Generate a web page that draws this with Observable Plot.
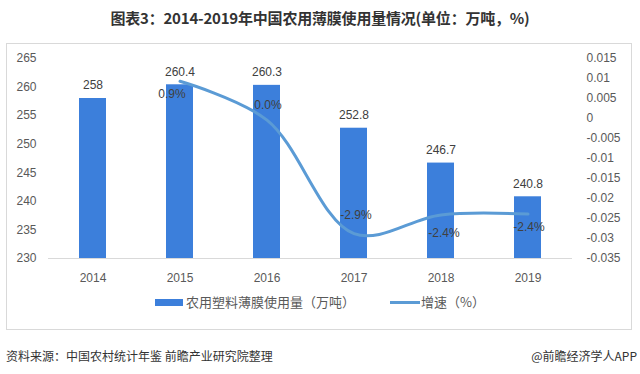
<!DOCTYPE html>
<html><head><meta charset="utf-8">
<script src="https://cdn.jsdelivr.net/npm/d3@7"></script>
<script src="https://cdn.jsdelivr.net/npm/@observablehq/plot@0.6"></script>
<style>
body{margin:0;background:#fff;}
#wrap{position:relative;width:640px;height:374px;overflow:hidden;font-family:"Liberation Sans","Noto Sans CJK SC",sans-serif;background:#fff;}
#title{position:absolute;top:9px;left:0;width:640px;text-align:center;font-size:15px;line-height:18px;font-weight:bold;color:#333;font-family:"Noto Sans CJK SC",sans-serif;letter-spacing:-0.2px;}
#frame{position:absolute;left:6px;top:43px;width:626px;height:287px;border:1px solid #d9d9d9;box-sizing:border-box;}
#chart{position:absolute;left:0;top:40px;}
.leg{position:absolute;font-size:13px;line-height:16px;color:#595959;font-family:"Noto Sans CJK SC",sans-serif;white-space:nowrap;}
.sw{position:absolute;}
#footL{position:absolute;left:6px;top:348px;font-size:12px;line-height:16px;color:#333;font-family:"Noto Sans CJK SC",sans-serif;white-space:nowrap;}
#footR{position:absolute;right:3px;top:348px;font-size:12px;line-height:16px;color:#333;font-family:"Noto Sans CJK SC",sans-serif;white-space:nowrap;}
</style></head>
<body>
<div id="wrap">
  <div id="title">图表3：2014-2019年中国农用薄膜使用量情况(单位：万吨，%)</div>
  <div id="frame"></div>
  <div id="chart"></div>
  <div class="sw" style="left:155px;top:299px;width:28px;height:7px;background:#3c7fdb;"></div>
  <div class="leg" style="left:186px;top:294px;">农用塑料薄膜使用量（万吨）</div>
  <div class="sw" style="left:390px;top:301px;width:30px;height:3px;background:#5b9bd5;"></div>
  <div class="leg" style="left:421px;top:294px;">增速（%）</div>
  <div id="footL">资料来源：中国农村统计年鉴 前瞻产业研究院整理</div>
  <div id="footR">@前瞻经济学人APP</div>
</div>
<script>
const years = ["2014","2015","2016","2017","2018","2019"];
const amounts = [258, 260.4, 260.3, 252.8, 246.7, 240.8];
const growthYears = ["2015","2016","2017","2018","2019"];
const growth = [0.0093, -0.0004, -0.0288, -0.0241, -0.0239];
const growthLabels = ["0.9%","0.0%","-2.9%","-2.4%","-2.4%"];
const leftTicks = [230, 235, 240, 245, 250, 255, 260, 265];
const rightTicks = [0.015, 0.01, 0.005, 0, -0.005, -0.01, -0.015, -0.02, -0.025, -0.03, -0.035];

const yDomain = [230, 265];
const rDomain = [-0.035, 0.015];
const g2y = d3.scaleLinear(rDomain, yDomain);

const barRows = years.map((y, i) => ({year: y, amount: amounts[i]}));
const lineRows = growthYears.map((y, i) => ({year: y, g: growth[i], label: growthLabels[i]}));

// label offsets (style only)
const offs = {"2015":[-8,13], "2016":[1,-15], "2017":[2,-19], "2018":[3,18], "2019":[1,13]};

const fmtR = v => { const r = Math.round(v * 1000) / 1000; return r === 0 ? "0" : String(r); };

const chart = Plot.plot({
  width: 640,
  height: 250,
  marginTop: 18,
  marginBottom: 32,
  marginLeft: 48,
  marginRight: 68,
  style: {fontFamily: '"Liberation Sans","Noto Sans CJK SC",sans-serif', fontSize: "12px", color: "#595959", background: "transparent"},
  x: {type: "band", domain: years, paddingInner: 0.69, paddingOuter: 0.345},
  y: {domain: yDomain},
  marks: [
    Plot.ruleY([yDomain[0]], {stroke: "#d9d9d9", strokeWidth: 1}),
    Plot.barY(barRows, {x: "year", y1: yDomain[0], y2: "amount", fill: "#3c7fdb"}),
    Plot.text(barRows, {x: "year", y: "amount", text: d => String(d.amount), dy: -13, fill: "#404040", fontSize: 12}),
    Plot.line(lineRows, {x: "year", y: d => g2y(d.g), curve: "catmull-rom", stroke: "#5b9bd5", strokeWidth: 3, strokeLinecap: "round"}),
    ...growthYears.map(yr => Plot.text(lineRows.filter(d => d.year === yr), {x: "year", y: d => g2y(d.g), text: "label", dx: offs[yr][0], dy: offs[yr][1], fill: "#404040", fontSize: 12})),
    Plot.axisX({tickSize: 0, tickPadding: 15, label: null, fontSize: 12}),
    Plot.axisY(leftTicks, {anchor: "left", tickSize: 0, tickPadding: 12, label: null, fontSize: 12}),
    Plot.axisY(rightTicks.map(v => g2y(v)), {anchor: "right", tickSize: 0, tickPadding: 14, label: null, fontSize: 12, tickFormat: v => fmtR(g2y.invert(v))})
  ]
});
document.getElementById("chart").appendChild(chart);
</script>
</body></html>
